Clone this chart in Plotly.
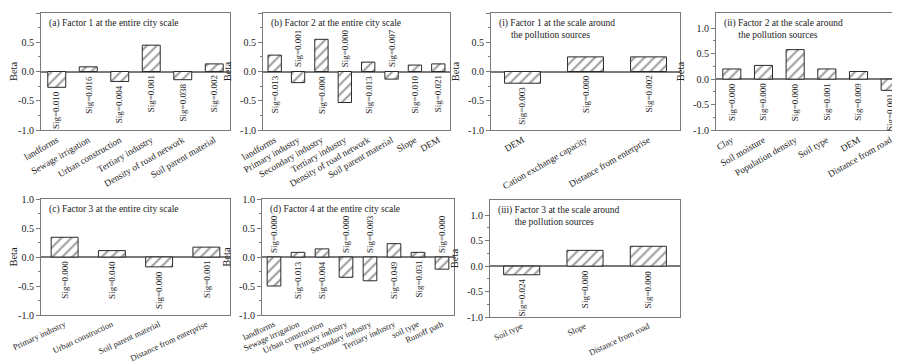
import plotly.graph_objects as go

# ---------------- data ----------------
a_cats = ["landforms", "Sewage irrigation", "Urban construction", "Tertiary industry",
          "Density of road network", "Soil parent material"]
a_vals = [-0.27, 0.08, -0.17, 0.45, -0.14, 0.13]
a_sig = ["0.010", "0.016", "0.004", "0.001", "0.038", "0.002"]

b_cats = ["landforms", "Primary industry", "Secondary industry", "Tertiary industry",
          "Density of road network", "Soil parent material", "Slope", "DEM"]
b_vals = [0.28, -0.19, 0.55, -0.53, 0.16, -0.13, 0.11, 0.13]
b_sig = ["0.013", "0.001", "0.000", "0.000", "0.013", "0.007", "0.010", "0.021"]

i_cats = ["DEM", "Cation exchange capacity", "Distance from enterprise"]
i_vals = [-0.20, 0.25, 0.25]
i_sig = ["0.003", "0.000", "0.002"]

ii_cats = ["Clay", "Soil moisture", "Population density", "Soil type", "DEM", "Distance from road"]
ii_vals = [0.20, 0.27, 0.58, 0.20, 0.15, -0.22]
ii_sig = ["0.000", "0.000", "0.000", "0.001", "0.009", "0.001"]

c_cats = ["Primary industry", "Urban construction", "Soil parent material", "Distance from enterprise"]
c_vals = [0.34, 0.11, -0.17, 0.17]
c_sig = ["0.000", "0.040", "0.000", "0.001"]

d_cats = ["landforms", "Sewage irrigation", "Urban construction", "Primary industry",
          "Secondary industry", "Tertiary industry", "soil type", "Runoff path"]
d_vals = [-0.50, 0.08, 0.14, -0.35, -0.41, 0.23, 0.08, -0.21]
d_sig = ["0.000", "0.013", "0.004", "0.000", "0.003", "0.049", "0.031", "0.000"]

iii_cats = ["Soil type", "Slope", "Distance from road"]
iii_vals = [-0.17, 0.31, 0.39]
iii_sig = ["0.024", "0.000", "0.000"]

titles = {
    "a": "(a) Factor 1 at the entire city scale",
    "b": "(b) Factor 2 at the entire city scale",
    "i": "(i) Factor 1 at the scale around<br>     the pollution sources",
    "ii": "(ii) Factor 2 at the scale around<br>      the pollution sources",
    "c": "(c) Factor 3 at the entire city scale",
    "d": "(d) Factor 4 at the entire city scale",
    "iii": "(iii) Factor 3 at the scale around<br>       the pollution sources",
}

# ---------------- layout of panels ----------------
W, H = 900, 363
FONT = "Liberation Serif, Times New Roman, serif"
GRAY = "#7a7a7a"

panels = [
    # key, cats, vals, sig, x px range, y px range (top,bottom), yrange, neg labels above
    ("a", a_cats, a_vals, a_sig, (33, 222), (5, 122), (-1, 1), False),
    ("b", b_cats, b_vals, b_sig, (255, 442), (5, 122), (-1, 1), True),
    ("i", i_cats, i_vals, i_sig, (483, 672), (5, 122), (-1, 1), False),
    ("ii", ii_cats, ii_vals, ii_sig, (708, 898), (5, 122), (-1, 1.3), False),
    ("c", c_cats, c_vals, c_sig, (33, 222), (191, 307), (-1, 1), False),
    ("d", d_cats, d_vals, d_sig, (254, 446), (191, 307), (-1, 1), True),
    ("iii", iii_cats, iii_vals, iii_sig, (482, 672), (192, 309), (-1, 1.3), False),
]

fig = go.Figure()
annotations = []
layout = {}

for k, (key, cats, vals, sig, xpx, ypx, yr, neg_above) in enumerate(panels):
    n = k + 1
    xa = "x" if n == 1 else f"x{n}"
    ya = "y" if n == 1 else f"y{n}"
    xkey = "xaxis" if n == 1 else f"xaxis{n}"
    ykey = "yaxis" if n == 1 else f"yaxis{n}"
    xdom = [xpx[0] / W, xpx[1] / W]
    ydom = [1 - ypx[1] / H, 1 - ypx[0] / H]
    bottom_row = ypx[0] > 150

    fig.add_trace(go.Bar(
        x=cats, y=vals, xaxis=xa, yaxis=ya, width=0.57,
        marker=dict(color="white",
                    line=dict(color="#2a2a2a", width=1),
                    pattern=dict(shape="/", fgcolor="#3a3a3a", bgcolor="white",
                                 size=7, solidity=0.28)),
        showlegend=False, hoverinfo="skip",
    ))

    layout[xkey] = dict(
        domain=xdom, anchor=ya, type="category", range=[-0.5, len(cats) - 0.5],
        showline=True, linecolor=GRAY, linewidth=1.2, mirror=True,
        ticks="", tickangle=-25 if bottom_row else -30,
        tickfont=dict(family=FONT, size=8.5 if bottom_row else 9.3, color="#222"),
        showgrid=False, zeroline=False, automargin=False,
    )
    layout[ykey] = dict(
        domain=ydom, anchor=xa, range=list(yr),
        tickvals=[-1.0, -0.5, 0.0, 0.5, 1.0], ticktext=["-1.0", "-0.5", "0.0", "0.5", "1.0"],
        ticks="outside", ticklen=4, tickcolor=GRAY, tickwidth=1,
        minor=dict(tickvals=[-0.75, -0.25, 0.25, 0.75], ticks="outside", ticklen=2,
                   tickcolor=GRAY),
        showline=True, linecolor=GRAY, linewidth=1.2, mirror=True,
        tickfont=dict(family=FONT, size=10, color="#222"),
        title=dict(text="Beta", font=dict(family=FONT, size=10.5, color="#222"), standoff=6),
        showgrid=False, zeroline=True, zerolinecolor=GRAY, zerolinewidth=1.5,
        automargin=False,
    )

    # panel title
    annotations.append(dict(
        text=titles[key], xref=f"{xa} domain", yref=f"{ya} domain",
        x=0.03, y=0.975, xanchor="left", yanchor="top", align="left", showarrow=False,
        font=dict(family=FONT, size=9.5, color="#222"),
    ))

    # significance labels
    for c, v, s in zip(cats, vals, sig):
        if v < 0 and neg_above:
            annotations.append(dict(
                text=f"Sig={s}", x=c, y=0, xref=xa, yref=ya, textangle=-90,
                xanchor="center", yanchor="bottom", yshift=2, showarrow=False,
                font=dict(family=FONT, size=9, color="#222"),
            ))
        else:
            base = min(v, 0)
            annotations.append(dict(
                text=f"Sig={s}", x=c, y=base, xref=xa, yref=ya, textangle=-90,
                xanchor="center", yanchor="top", yshift=-2, showarrow=False,
                font=dict(family=FONT, size=9, color="#222"),
            ))

fig.update_layout(
    width=W, height=H, margin=dict(l=0, r=0, t=0, b=0),
    paper_bgcolor="white", plot_bgcolor="white",
    annotations=annotations, bargap=0.4,
    font=dict(family=FONT),
    **layout,
)

fig.write_html("out.html")
